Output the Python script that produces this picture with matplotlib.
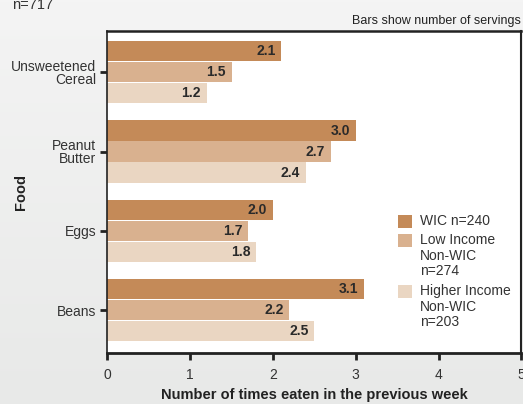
import matplotlib
matplotlib.use("Agg")
import matplotlib.pyplot as plt
import numpy as np
from matplotlib.patches import Rectangle

# Data
foods = ["Unsweetened\nCereal", "Peanut\nButter", "Eggs", "Beans"]
wic = [2.1, 3.0, 2.0, 3.1]
low_income = [1.5, 2.7, 1.7, 2.2]
higher_income = [1.2, 2.4, 1.8, 2.5]
series_labels = ["WIC n=240", "Low Income\nNon-WIC\nn=274", "Higher Income\nNon-WIC\nn=203"]
xticks = [0, 1, 2, 3, 4, 5]

colors = ["#C48A58", "#D9B18F", "#EAD6C2"]
dark = "#222222"
text_col = "#333333"

plt.rcParams["font.family"] = ["Liberation Sans", "DejaVu Sans"]

W, H = 523, 404
fig = plt.figure(figsize=(W / 100, H / 100), dpi=100)

# soft vertical gradient behind everything
bg = fig.add_axes([0, 0, 1, 1], zorder=-10)
grad = np.linspace(0, 1, 256)[:, None]
top_c = np.array([0.957, 0.957, 0.957])
bot_c = np.array([0.910, 0.914, 0.910])
img = top_c[None, None, :] * (1 - grad[:, :, None]) + bot_c[None, None, :] * grad[:, :, None]
bg.imshow(img, aspect="auto", extent=[0, 1, 0, 1])
bg.axis("off")

ax_w, ax_h = 414, 322
ax_l, ax_b = 107.3, 353
ax = fig.add_axes([ax_l / W, 1 - ax_b / H, ax_w / W, ax_h / H])
ax.set_facecolor("white")

y = np.arange(len(foods))
h = 0.255
off = 0.265
for vals, dy, c in zip([wic, low_income, higher_income], [-off, 0, off], colors):
    bars = ax.barh(y + dy, vals, height=h, color=c, zorder=2)
    for b, v in zip(bars, vals):
        ax.text(v - 0.07, b.get_y() + b.get_height() / 2, f"{v:.1f}",
                ha="right", va="center", fontsize=10, fontweight="bold",
                color="#2a2a2a", zorder=3)

ax.set_ylim(3.54, -0.52)
ax.set_xlim(0, 5)
ax.set_yticks(y)
ax.set_yticklabels(foods, fontsize=10, color=text_col, ha="right", linespacing=0.9)
ax.set_xticks(xticks)
ax.set_xticklabels([str(t) for t in xticks], fontsize=10, color=text_col)
ax.tick_params(axis="y", length=5, width=2, color=dark, pad=3)
ax.tick_params(axis="x", length=5, width=2, color=dark, pad=6)

for s in ["left", "top", "bottom", "right"]:
    ax.spines[s].set_color(dark)
ax.spines["left"].set_linewidth(1.2)
ax.spines["top"].set_linewidth(1.8)
ax.spines["bottom"].set_linewidth(2.0)
ax.spines["right"].set_linewidth(1.5)

ax.set_xlabel("Number of times eaten in the previous week", fontsize=10.5,
              fontweight="bold", color=dark, va="center")
ax.xaxis.set_label_coords(0.5, -(395 - ax_b) / ax_h)
ax.set_ylabel("Food", fontsize=10.5, fontweight="bold", color=dark, va="center")
ax.yaxis.set_label_coords(-(ax_l - 21) / ax_w, 0.5)

# legend: swatch aligned with the first line of each entry
entry_tops = [215, 234, 285]
for top, label, c in zip(entry_tops, series_labels, colors):
    fig.patches.append(Rectangle((398 / W, 1 - (top + 13) / H), 14 / W, 13 / H,
                                 transform=fig.transFigure, facecolor=c,
                                 edgecolor="none", zorder=5))
    fig.text(420 / W, 1 - (top - 1) / H, label, fontsize=10, color=text_col,
             ha="left", va="top", linespacing=1.15)

fig.text(12 / W, 1 - 9 / H, "n=717", fontsize=10.5, color=text_col, va="baseline")
fig.text(521 / W, 1 - 24 / H, "Bars show number of servings", fontsize=9,
         color=dark, ha="right", va="baseline")

fig.savefig("out.png", dpi=100)
